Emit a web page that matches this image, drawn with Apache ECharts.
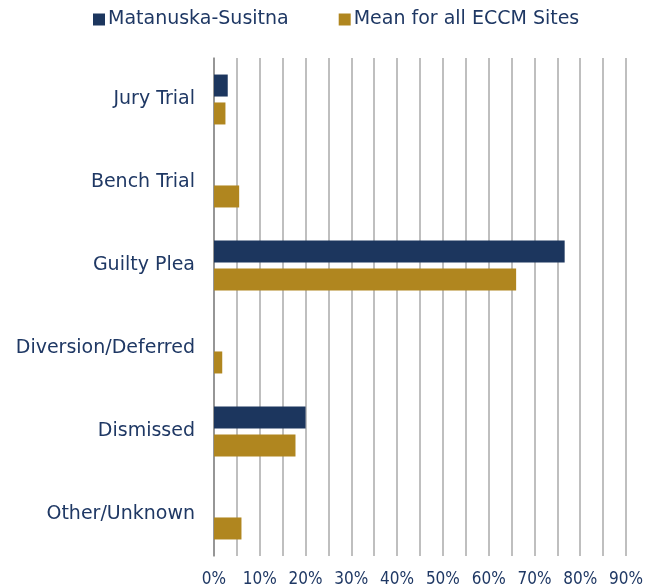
<!DOCTYPE html>
<html>
<head>
<meta charset="utf-8">
<script src="https://cdn.jsdelivr.net/npm/echarts@6/dist/echarts.min.js"></script>
<style>
  html, body { margin: 0; padding: 0; background: #fff; }
  #root { width: 651px; height: 588px; }
</style>
</head>
<body>
<div id="root"></div>
<script>
// categories top to bottom
var categories = ['Jury Trial', 'Bench Trial', 'Guilty Plea', 'Diversion/Deferred', 'Dismissed', 'Other/Unknown'];
// percent of cases
var matSu = [3.0, 0, 76.6, 0, 20.0, 0];
var eccmMean = [2.5, 5.5, 66.0, 1.8, 17.8, 6.0];
var seriesNames = ['Matanuska-Susitna', 'Mean for all ECCM Sites'];

var navy = '#1c365e';
var gold = '#b0861f';
var textColor = '#1f3864';

var option = {
  animation: false,
  backgroundColor: '#fff',
  textStyle: { fontFamily: 'DejaVu Sans' },
  legend: {
    top: 5,
    left: 88,
    itemWidth: 12,
    itemHeight: 12,
    itemGap: 50,
    icon: 'rect',
    textStyle: { color: textColor, fontSize: 19, fontFamily: 'DejaVu Sans', padding: [0, 0, 0, -2] },
    data: seriesNames
  },
  grid: { left: 214, right: 25, top: 58, bottom: 32 },
  xAxis: {
    type: 'value',
    min: 0,
    max: 90,
    interval: 10,
    axisLine: { show: false },
    axisTick: { show: false },
    splitLine: { show: true, lineStyle: { color: '#aaa', width: 1.5 } },
    minorSplitLine: { show: true, lineStyle: { color: '#aaa', width: 1.5 } },
    minorTick: { show: false, splitNumber: 2 },
    axisLabel: {
      color: textColor,
      fontSize: 17,
      fontFamily: 'DejaVu Sans Condensed',
      margin: 15,
      formatter: function (v) { return v + '%'; }
    }
  },
  yAxis: {
    type: 'category',
    inverse: true,
    data: categories,
    axisLine: { show: true, lineStyle: { color: '#888', width: 1.5 } },
    axisTick: { show: false },
    axisLabel: { color: textColor, fontSize: 19, margin: 19 }
  },
  series: [
    {
      name: seriesNames[0],
      type: 'bar',
      data: matSu,
      barWidth: 22,
      barGap: '27%',
      itemStyle: { color: navy }
    },
    {
      name: seriesNames[1],
      type: 'bar',
      data: eccmMean,
      barWidth: 22,
      itemStyle: { color: gold }
    }
  ]
};

var myChart = echarts.init(document.getElementById('root'));
myChart.setOption(option);
</script>
</body>
</html>
